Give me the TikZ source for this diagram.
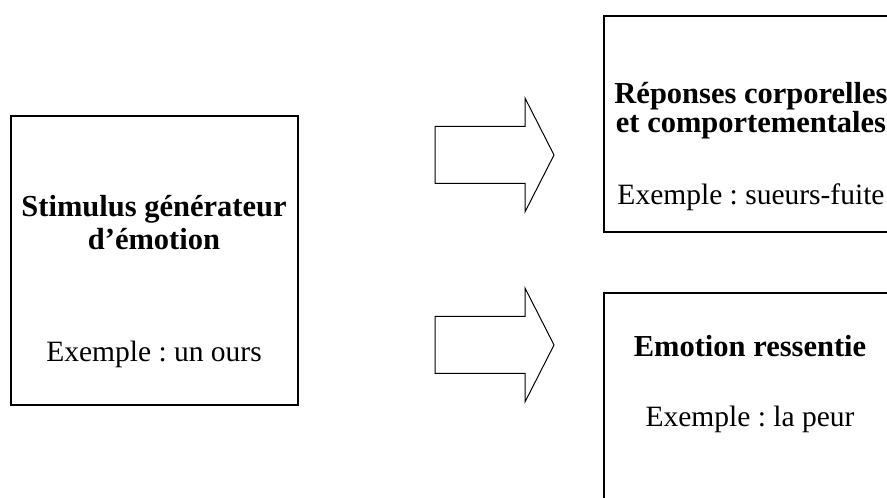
\documentclass[tikz,border=0pt]{standalone}
\usepackage{fontspec}
\setmainfont{Liberation Serif}
\frenchspacing
\begin{document}
\begin{tikzpicture}[x=1pt,y=1pt,
  box/.style={draw, line width=1.8pt, rectangle, inner sep=0pt, anchor=north west},
  lbl/.style={anchor=base, inner sep=0pt, font=\fontsize{29.5}{33}\selectfont},
  hd/.style={anchor=base, inner sep=0pt, font=\fontsize{30.5}{34}\selectfont\bfseries},
  bigarrow/.style={draw, line width=1pt, fill=white, line join=miter}]
\fill[white] (0,0) rectangle (887,498);
\clip (0,0) rectangle (887,498);
% boxes
\node[box, minimum width=287pt, minimum height=289pt] (src) at (10,383) {};
\node[box, minimum width=302pt, minimum height=216pt] (resp) at (603,483) {};
\node[box, minimum width=302pt, minimum height=228pt] (emo) at (603,206) {};
% texts
\node[hd]  (srcT1) at (154,281) {Stimulus générateur};
\node[hd]  (srcT2) at (154,248) {d’émotion};
\node[lbl] (srcEx) at (154,136) {Exemple : un ours};
\node[hd]  (respT1) at (751,394) {Réponses corporelles};
\node[hd]  (respT2) at (751,365) {et comportementales};
\node[lbl] (respEx) at (751,293) {Exemple : sueurs-fuite};
\node[hd]  (emoT) at (750,141) {Emotion ressentie};
\node[lbl] (emoEx) at (750,71) {Exemple : la peur};
% block arrows
\coordinate (a1) at (435,343);
\coordinate (a2) at (435,153);
\draw[bigarrow] (a1) ++(0,28.5) -- ++(90,0) -- ++(0,28.5) -- ++(29,-57) -- ++(-29,-57) -- ++(0,28.5) -- ++(-90,0) -- cycle;
\draw[bigarrow] (a2) ++(0,28.5) -- ++(90,0) -- ++(0,28.5) -- ++(29,-57) -- ++(-29,-57) -- ++(0,28.5) -- ++(-90,0) -- cycle;
\end{tikzpicture}
\end{document}
